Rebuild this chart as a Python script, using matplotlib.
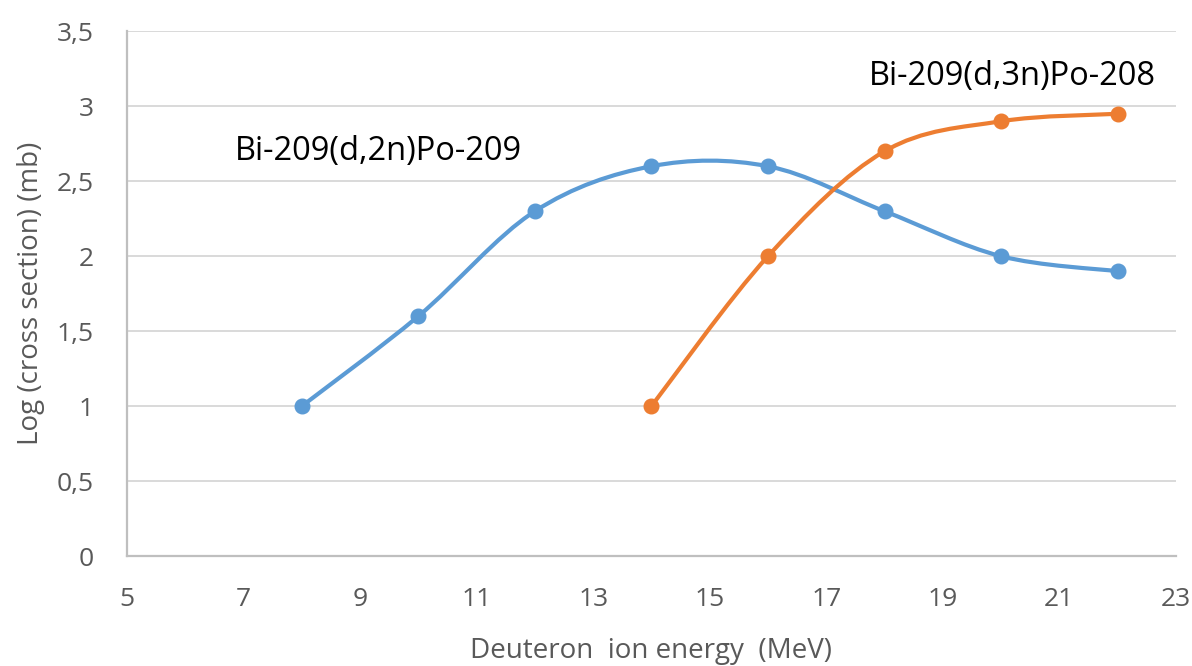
import matplotlib
matplotlib.use('Agg')
import matplotlib.pyplot as plt
from matplotlib.path import Path
from matplotlib.patches import PathPatch
from matplotlib.ticker import FuncFormatter
import numpy as np

# Data
energy_2n = [8, 10, 12, 14, 16, 18, 20, 22]
logxs_2n = [1.0, 1.6, 2.3, 2.6, 2.6, 2.3, 2.0, 1.9]
energy_3n = [14, 16, 18, 20, 22]
logxs_3n = [1.0, 2.0, 2.7, 2.9, 2.95]

BLUE = '#5B9BD5'
ORANGE = '#ED7D31'
GRID_COLOR = '#D9D9D9'
TEXT_COLOR = '#595959'

plt.rcParams.update({
    'font.family': ['Open Sans', 'DejaVu Sans'],
    'font.size': 18,
})


def smooth_path(xs, ys):
    # Excel-style smoothed line: Catmull-Rom segments as cubic Beziers
    pts = np.column_stack([xs, ys]).astype(float)
    verts = [pts[0]]
    codes = [Path.MOVETO]
    n = len(pts)
    for i in range(n - 1):
        p0 = pts[i - 1] if i > 0 else pts[i]
        p1 = pts[i]
        p2 = pts[i + 1]
        p3 = pts[i + 2] if i + 2 < n else pts[i + 1]
        c1 = p1 + (p2 - p0) / 6.0
        c2 = p2 - (p3 - p1) / 6.0
        verts += [c1, c2, p2]
        codes += [Path.CURVE4] * 3
    return Path(verts, codes)


fig = plt.figure(figsize=(11.92, 6.66), dpi=100)
ax = fig.add_axes([0.1065, 0.165, 0.88, 0.788])

for xs, ys, col in [(energy_2n, logxs_2n, BLUE), (energy_3n, logxs_3n, ORANGE)]:
    ax.add_patch(PathPatch(smooth_path(xs, ys), facecolor='none', edgecolor=col,
                           lw=3.0, capstyle='round', joinstyle='round', zorder=3))
    ax.plot(xs, ys, linestyle='none', marker='o', markersize=10.5, color=col, zorder=4)

ax.set_xlim(5, 23)
ax.set_ylim(0, 3.5)
ax.set_xticks(np.arange(5, 24, 2))
ax.set_yticks(np.arange(0, 3.51, 0.5))
ax.yaxis.set_major_formatter(FuncFormatter(lambda v, p: f'{v:g}'.replace('.', ',')))

ax.grid(axis='y', color=GRID_COLOR, lw=1.4)
ax.set_axisbelow(True)
for s in ['top', 'right']:
    ax.spines[s].set_visible(False)
for s in ['left', 'bottom']:
    ax.spines[s].set_color('#BFBFBF')
    ax.spines[s].set_linewidth(1.6)
ax.tick_params(axis='y', length=0, colors=TEXT_COLOR, labelsize=19, pad=24)
ax.tick_params(axis='x', length=0, colors=TEXT_COLOR, labelsize=19, pad=22)

ax.set_xlabel('Deuteron  ion energy  (MeV)', color=TEXT_COLOR, fontsize=20, labelpad=18)
ax.set_ylabel('Log (cross section) (mb)', color=TEXT_COLOR, fontsize=20, labelpad=8)

ax.text(6.85, 2.7, 'Bi-209(d,2n)Po-209', fontsize=23.5, color='black', ha='left', va='center')
ax.text(22.65, 3.2, 'Bi-209(d,3n)Po-208', fontsize=23.5, color='black', ha='right', va='center')

fig.savefig('out.png', dpi=100)
